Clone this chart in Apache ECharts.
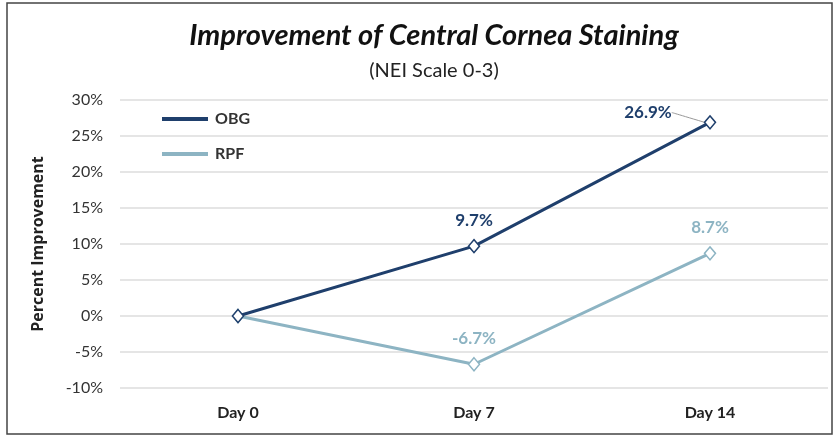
<!DOCTYPE html>
<html><head><meta charset="utf-8">
<script src="https://cdn.jsdelivr.net/npm/echarts@6/dist/echarts.min.js"></script>
<style>html,body{margin:0;padding:0;background:#fff}#c{width:835px;height:437px}</style>
</head><body><div id="c"></div>
<script>
const categories = ['Day 0', 'Day 7', 'Day 14'];
const obgValues = [0, 9.7, 26.9];
const rpfValues = [0, -6.7, 8.7];
const yTicks = { min: -10, max: 30, interval: 5 };
const titleText = 'Improvement of Central Cornea Staining';
const subtitleText = '(NEI Scale 0-3)';
const yName = 'Percent Improvement';

const OBG = '#1f3f6c', RPF = '#8db4c3';
const font = 'Lato';
const chart = echarts.init(document.getElementById('c'));
const fmt = p => p.dataIndex === 0 ? '' : p.value.toFixed(1) + '%';
chart.setOption({
  backgroundColor: '#fff',
  animation: false,
  textStyle: { fontFamily: font },
  title: [
    { text: titleText, left: 429, top: 16, textAlign: 'center',
      textStyle: { fontFamily: font, fontSize: 29, fontWeight: 'bold', fontStyle: 'italic', color: '#111' } },
    { text: subtitleText, left: 429, top: 56, textAlign: 'center',
      textStyle: { fontFamily: font, fontSize: 20, fontWeight: 'normal', color: '#222' } }
  ],
  graphic: [{ type: 'rect', shape: { x: 7, y: 3, width: 825, height: 431 },
    style: { fill: 'none', stroke: '#444', lineWidth: 1.5 }, silent: true }],
  legend: {
    orient: 'vertical', left: 157, top: 106, itemWidth: 46, itemHeight: 4, itemGap: 19,
    icon: 'rect',
    textStyle: { fontFamily: font, fontSize: 16, fontWeight: 'bold', color: '#333', padding: [0, 0, 0, 2] },
    data: [
      { name: 'OBG', itemStyle: { color: OBG, borderWidth: 0 } },
      { name: 'RPF', itemStyle: { color: RPF, borderWidth: 0 } }
    ]
  },
  grid: { left: 120, right: 7, top: 100, bottom: 49 },
  xAxis: {
    type: 'category', data: categories, boundaryGap: true,
    axisLine: { show: false }, axisTick: { show: false },
    axisLabel: { margin: 17, fontFamily: font, fontSize: 16, fontWeight: 'bold', color: '#222' }
  },
  yAxis: {
    type: 'value', min: yTicks.min, max: yTicks.max, interval: yTicks.interval,
    name: yName, nameLocation: 'middle', nameGap: 74,
    nameTextStyle: { fontFamily: 'Open Sans', fontSize: 16, fontWeight: 'bold', color: '#222' },
    axisLine: { show: false }, axisTick: { show: false },
    axisLabel: { formatter: '{value}%', margin: 17, fontFamily: font, fontSize: 16, color: '#333' },
    splitLine: { lineStyle: { color: '#dcdcdc', width: 1.5 } }
  },
  series: [
    { name: 'RPF', type: 'line', data: rpfValues, color: RPF,
      symbol: 'diamond', symbolSize: [11, 13], z: 2,
      lineStyle: { width: 3, color: RPF },
      itemStyle: { color: '#fff', borderColor: RPF, borderWidth: 1.5 },
      label: { show: true, position: 'top', distance: 10, color: RPF, fontSize: 17, fontWeight: 'bold',
        fontFamily: font, formatter: fmt } },
    { name: 'OBG', type: 'line', color: OBG,
      data: obgValues.map((v, i) => i === 2 ? { value: v, labelLine: { show: true } } : { value: v }),
      symbol: 'diamond', symbolSize: [11, 13], z: 3,
      lineStyle: { width: 3, color: OBG },
      itemStyle: { color: '#fff', borderColor: OBG, borderWidth: 1.5 },
      label: { show: true, position: 'top', distance: 10, color: OBG, fontSize: 17, fontWeight: 'bold',
        fontFamily: font, formatter: fmt },
      labelLine: { show: false, smooth: 0.3, lineStyle: { color: '#999', width: 1 } },
      labelLayout: p => p.dataIndex === 2 ? { dx: -62, dy: 16 } : {} }
  ]
});
</script></body></html>
